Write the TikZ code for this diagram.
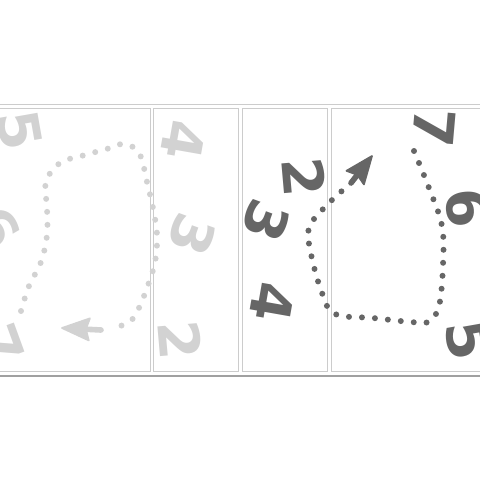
\documentclass[tikz,border=0pt]{standalone}
\usepackage{fontspec}
\setmainfont{DejaVu Sans}
\usetikzlibrary{calc}
\definecolor{inkdark}{HTML}{666666}
\definecolor{inklight}{HTML}{D2D2D2}
\definecolor{framegray}{HTML}{CCCCCC}
\definecolor{basegray}{HTML}{A0A0A0}

\begin{document}
\begin{tikzpicture}[x=0.05cm, y=-0.05cm,
  digit/.style={font=\fontsize{80}{80}\selectfont\bfseries, text=#1, inner sep=0pt},
  panel/.style={draw=framegray, line width=0.7pt},
  trail/.style={draw=#1, line width=8.5pt, line cap=round, dash pattern=on 0pt off 18.5pt},
  shaft/.style={draw=#1, line width=8pt, line cap=round},
  head/.style={fill=#1, draw=#1, line width=2.5pt, line join=round}
]
  \useasboundingbox (0,0) rectangle (480,480);
  \begin{scope}
    \clip (0,0) rectangle (480,480);

    % Panel frames
    \draw[framegray, densely dotted] (0,104) -- (480,104);
    \draw[panel] (-5,108) rectangle (150,371);
    \draw[panel] (153,108) rectangle (238,371);
    \draw[panel] (242,108) rectangle (327,371);
    \draw[panel] (331,108) rectangle (485,371);
    \draw[basegray, line width=3.5pt] (0,376) -- (480,376);

    % Faded half
    \node[digit=inklight, rotate=-80] (lfive) at (20,130) {5};
    \node[digit=inklight, rotate=-60] (lsix) at (-4,228) {6};
    \node[digit=inklight, rotate=-70] (lseven) at (0,345) {7};
    \node[digit=inklight, rotate=-100] (lfour) at (183,140) {4};
    \node[digit=inklight, rotate=-110] (lthree) at (192,235) {3};
    \node[digit=inklight, rotate=-85] (ltwo) at (180,340) {2};

    \draw[trail=inklight] plot[smooth, tension=0.6] coordinates {(21,311) (29,286) (41,262) (47,235) (47,208) (46,182) (60,163) (85,155) (110,148) (121,144) (133,147) (141,157) (147,182) (153,208) (157,235) (155,262) (147,288) (137,312) (129,322) (112,329)};
    \coordinate (lneck) at (101,330);
    \coordinate (ltip) at (62,328);
    \draw[shaft=inklight] (lneck) -- ($(ltip)!30pt!(lneck)$);
    \filldraw[head=inklight] (ltip) -- ($(ltip)!42pt!22:(lneck)$) -- ($(ltip)!34pt!(lneck)$) -- ($(ltip)!42pt!-22:(lneck)$) -- cycle;

    % Dark half
    \node[digit=inkdark, rotate=-85] (rtwo) at (304,177) {2};
    \node[digit=inkdark, rotate=-110] (rthree) at (266,221) {3};
    \node[digit=inkdark, rotate=-100] (rfour) at (272,302) {4};
    \node[digit=inkdark, rotate=-95] (rseven) at (434,128) {7};
    \node[digit=inkdark, rotate=-85] (rsix) at (468,208) {6};
    \node[digit=inkdark, rotate=-80] (rfive) at (468,340) {5};

    \draw[trail=inkdark] plot[smooth, tension=0.6] coordinates {(414,151) (429,188) (442,226) (443,265) (439,306) (428,322) (411,322) (373,318) (335,314) (322,293) (311,254) (309,228) (324,208) (343,190)};
    \coordinate (rneck) at (351,183);
    \coordinate (rtip) at (372,156);
    \draw[shaft=inkdark] (rneck) -- ($(rtip)!30pt!(rneck)$);
    \filldraw[head=inkdark] (rtip) -- ($(rtip)!42pt!22:(rneck)$) -- ($(rtip)!34pt!(rneck)$) -- ($(rtip)!42pt!-22:(rneck)$) -- cycle;
  \end{scope}
\end{tikzpicture}
\end{document}
